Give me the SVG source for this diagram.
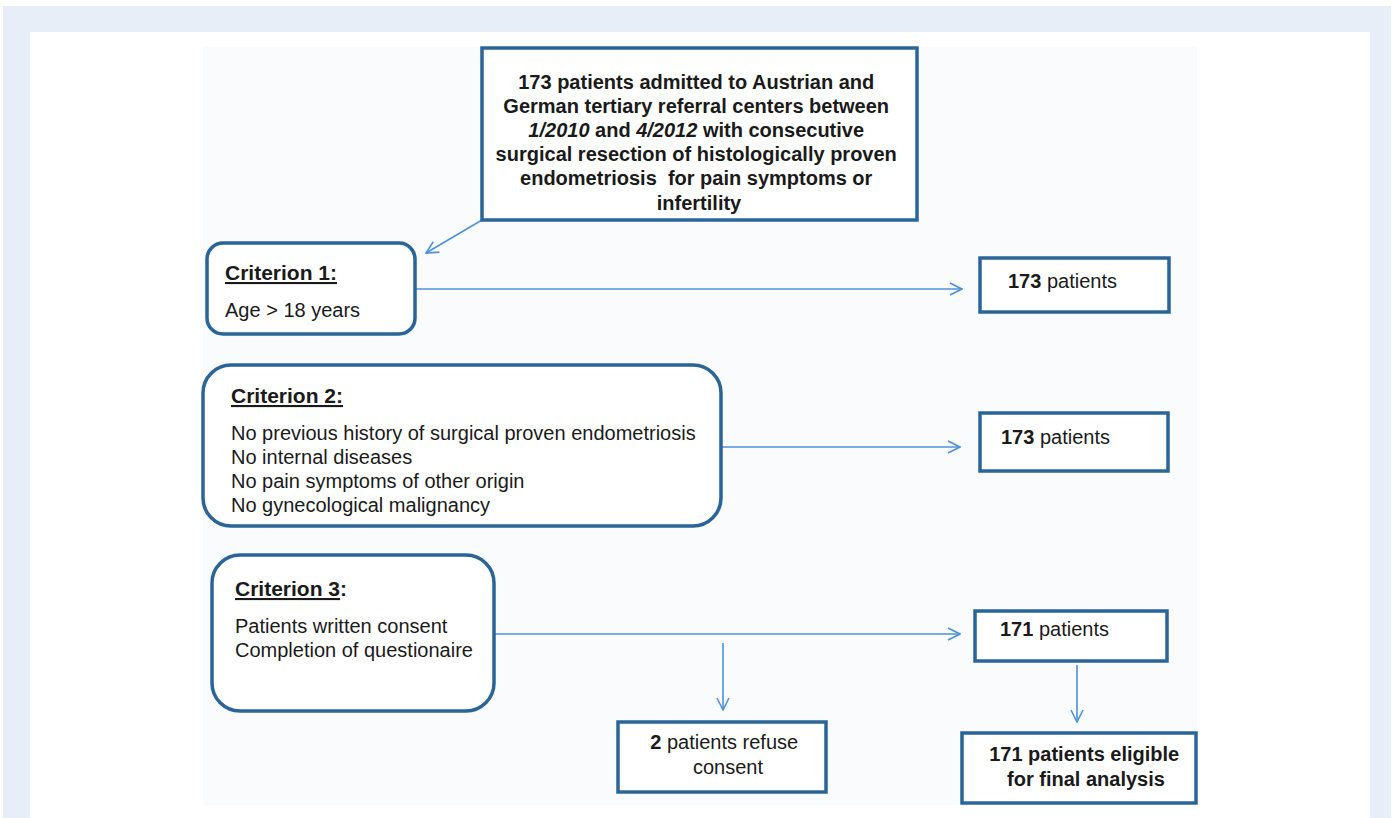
<svg xmlns="http://www.w3.org/2000/svg" width="1394" height="818" viewBox="0 0 1394 818">
  <defs>
    <style>
      .box { fill: #ffffff; stroke: #2b6496; stroke-width: 3.5; }
      .conn { stroke: #4d92d8; stroke-width: 1.6; fill: none; }
      .t { font-family: "Liberation Sans", Arial, sans-serif; font-size: 20px; fill: #1a1a1a; }
      .h { font-size: 21px; }
      .b { font-weight: bold; }
      .u { text-decoration: underline; }
    </style>
    <marker id="arr" viewBox="0 0 14 14" refX="13" refY="7" markerWidth="14" markerHeight="14" markerUnits="userSpaceOnUse" orient="auto">
      <path d="M1,1 L13,7 L1,13" fill="none" stroke="#4d92d8" stroke-width="1.6"/>
    </marker>
  </defs>
  <rect x="3" y="6" width="1388" height="812" fill="#e7eef8"/>
  <rect x="30" y="32" width="1340" height="786" fill="#ffffff"/>
  <rect x="203" y="47" width="994" height="758" fill="#fafbfd"/>

  <g id="connectors">
    <line class="conn" x1="482" y1="220" x2="426" y2="253" marker-end="url(#arr)"/>
    <line class="conn" x1="416" y1="289" x2="962" y2="289" marker-end="url(#arr)"/>
    <line class="conn" x1="722" y1="447" x2="960" y2="447" marker-end="url(#arr)"/>
    <line class="conn" x1="495" y1="634" x2="960" y2="634" marker-end="url(#arr)"/>
    <line class="conn" x1="723" y1="643" x2="723" y2="710" marker-end="url(#arr)"/>
    <line class="conn" x1="1077" y1="665" x2="1077" y2="722" marker-end="url(#arr)"/>
  </g>

  <g id="start">
    <rect class="box" x="482" y="48" width="435" height="172"/>
    <text class="t b" text-anchor="middle">
      <tspan x="699" y="89">173 patients admitted to Austrian and</tspan>
      <tspan x="699" y="113">German tertiary referral centers between</tspan>
      <tspan x="699" y="137"><tspan font-style="italic">1/2010</tspan> and <tspan font-style="italic">4/2012</tspan> with consecutive</tspan>
      <tspan x="699" y="161">surgical resection of histologically proven</tspan>
      <tspan x="699" y="185">endometriosis&#160; for pain symptoms or</tspan>
      <tspan x="699" y="210">infertility</tspan>
    </text>
  </g>

  <g id="criterion1">
    <rect class="box" x="207" y="243" width="208" height="91" rx="16"/>
    <text class="t h b u" x="225" y="280">Criterion 1:</text>
    <text class="t" x="225" y="317">Age &gt; 18 years</text>
  </g>

  <g id="result1">
    <rect class="box" x="980" y="258" width="189" height="54"/>
    <text class="t" x="1008" y="288"><tspan class="b">173</tspan> patients</text>
  </g>

  <g id="criterion2">
    <rect class="box" x="203" y="365" width="518" height="161" rx="28"/>
    <text class="t h b u" x="231" y="403">Criterion 2:</text>
    <text class="t" x="231" y="440">No previous history of surgical proven endometriosis</text>
    <text class="t" x="231" y="464">No internal diseases</text>
    <text class="t" x="231" y="488">No pain symptoms of other origin</text>
    <text class="t" x="231" y="512">No gynecological malignancy</text>
  </g>

  <g id="result2">
    <rect class="box" x="980" y="413" width="188" height="58"/>
    <text class="t" x="1001" y="444"><tspan class="b">173</tspan> patients</text>
  </g>

  <g id="criterion3">
    <rect class="box" x="212" y="555" width="282" height="156" rx="28"/>
    <text class="t h b" x="235" y="596"><tspan class="u">Criterion 3</tspan>:</text>
    <text class="t" x="235" y="633">Patients written consent</text>
    <text class="t" x="235" y="657">Completion of questionaire</text>
  </g>

  <g id="result3">
    <rect class="box" x="975" y="611" width="192" height="50"/>
    <text class="t" x="1000" y="636"><tspan class="b">171</tspan> patients</text>
  </g>

  <g id="refuse">
    <rect class="box" x="618" y="722" width="208" height="70"/>
    <text class="t" text-anchor="middle">
      <tspan x="727" y="749"><tspan class="b">2</tspan> patients refuse</tspan>
      <tspan x="728" y="774">consent</tspan>
    </text>
  </g>

  <g id="final">
    <rect class="box" x="962" y="733" width="234" height="70"/>
    <text class="t b" text-anchor="middle">
      <tspan x="1087" y="761">171 patients eligible</tspan>
      <tspan x="1086" y="786">for final analysis</tspan>
    </text>
  </g>
</svg>
